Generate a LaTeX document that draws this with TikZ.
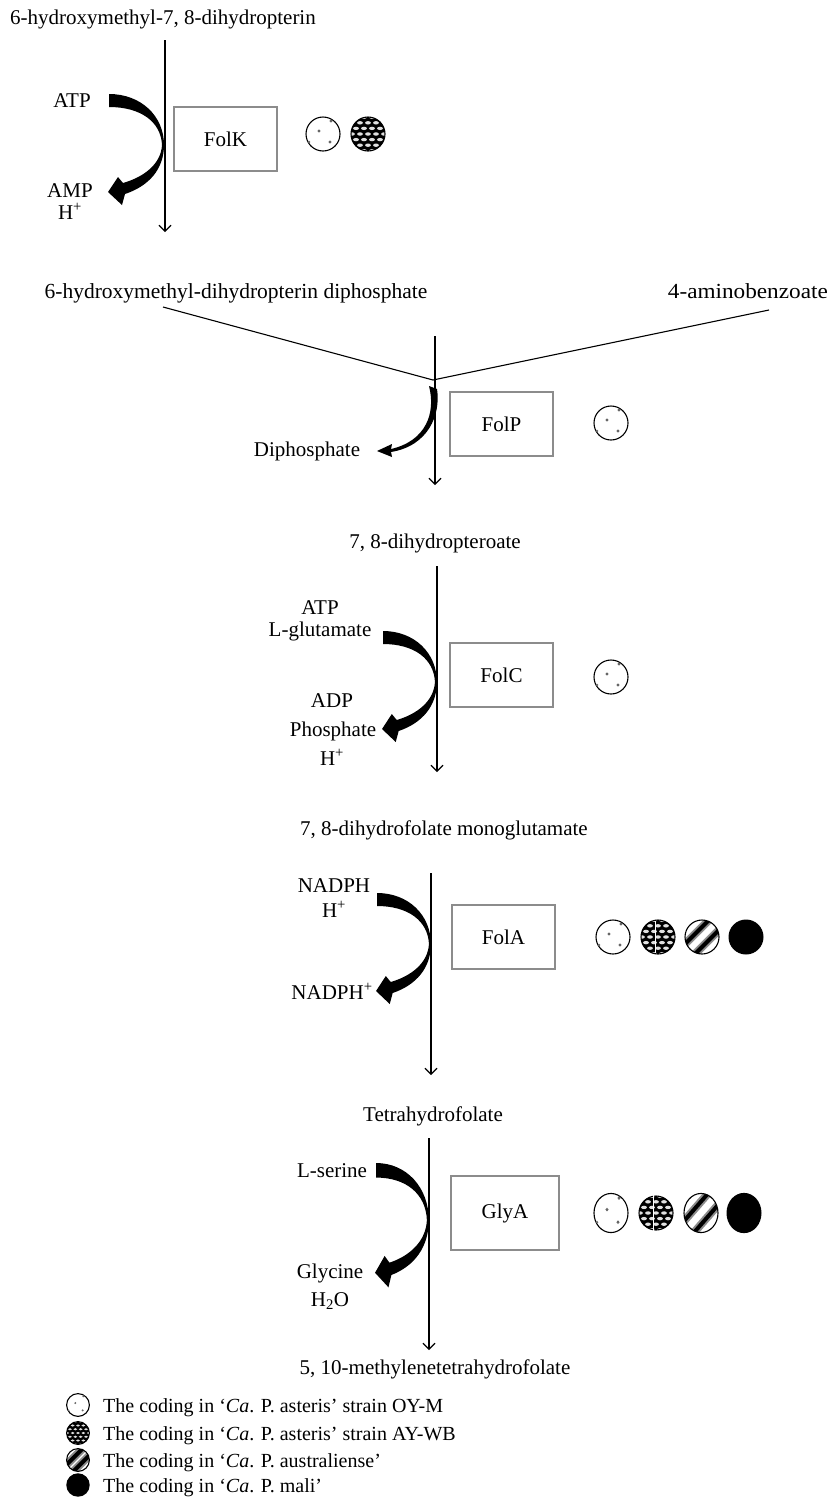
\documentclass[tikz,border=0pt]{standalone}
\usepackage{fontspec}
\setmainfont{Liberation Serif}
\usetikzlibrary{arrows.meta}
\tikzset{
  lbl/.style={font=\fontsize{21}{25}\selectfont, inner sep=0pt, anchor=base},
  legtxt/.style={font=\fontsize{20}{24}\selectfont, inner sep=0pt, anchor=base west},
  enz/.style={draw=black!45, line width=1.2pt, minimum width=103pt, minimum height=64pt, inner sep=0pt, font=\fontsize{21}{25}\selectfont},
  flow/.style={line width=1.1pt, -{Straight Barb[length=6pt,width=12pt,line width=1.1pt]}},
  joinline/.style={line width=1.1pt},
  bigarrow/.pic={
    \fill (0,0) .. controls (32,0) and (55,22) .. (55,51)
      .. controls (55,75) and (40,92) .. (16,100)
      -- (13,111) -- (-1,98) -- (9,83) -- (14,89)
      .. controls (35,83) and (52,70) .. (53,51)
      .. controls (52,28) and (32,13) .. (0,13) -- cycle;
  },
  oym/.pic={
    \draw[line width=1.1pt, fill=white] (0,0) circle[radius=17];
    \fill[black!60] (-4,-3) circle[radius=1.6] (8,-13) circle[radius=1.6]
      (7,8) circle[radius=1.6] (-14,8) circle[radius=1.3];
  },
  aywb/.pic={
    \begin{scope}
      \clip (0,0) circle[radius=17];
      \fill (-18,-18) rectangle (18,18);
      \foreach \r in {-3,...,3} {
        \foreach \c in {-3,...,3} {
          \fill[black!12] ({\c*8 + mod(\r+4,2)*4}, {\r*5.6}) ellipse[x radius=2.9, y radius=1.7];
        }
      }
    \end{scope}
    \draw[line width=1.1pt] (0,0) circle[radius=17];
  },
  aywbl/.pic={
    \pic {aywb};
    \draw[white, line width=0.8pt] (-3,-16) -- (-3,16);
  },
  aus/.pic={
    \begin{scope}
      \clip (0,0) circle[radius=17];
      \fill[white] (0,0) circle[radius=17];
      \draw[black!45, line width=8pt] (-30,20) -- (20,-30) (-20,30) -- (30,-20);
      \draw[black, line width=4pt] (-30,20) -- (20,-30) (-20,30) -- (30,-20);
    \end{scope}
    \draw[line width=1.1pt] (0,0) circle[radius=17];
  },
  mali/.pic={
    \fill (0,0) circle[radius=17.5];
  }
}
\begin{document}
\begin{tikzpicture}[x=1pt,y=-1pt]
\useasboundingbox (0,0) rectangle (837,1497);
\fill[white] (0,0) rectangle (837,1497);

% ---------- step 1: FolK ----------
\node[lbl, anchor=base west] (t1) at (10,24) {6-hydroxymethyl-7, 8-dihydropterin};
\coordinate (k1) at (165,40);
\coordinate (k2) at (165,232);
\draw[flow] (k1) -- (k2);
\pic at (109,94) {bigarrow};
\node[lbl] (atp1) at (72,107) {ATP};
\node[lbl] (amp1) at (70,197) {AMP};
\node[lbl] (hp1) at (70,219) {H\textsuperscript{+}};
\node[enz] (folk) at (225.5,139) {FolK};
\pic at (323,134) {oym};
\pic at (368,134) {aywb};

% ---------- step 2: FolP ----------
\node[lbl, font=\fontsize{21.5}{25}\selectfont] (t2) at (236,298) {6-hydroxymethyl-dihydropterin diphosphate};
\node[lbl, anchor=base east, font=\fontsize{21.5}{25}\selectfont] (t2b) at (828,298) {\scalebox{1.08}[1]{4-aminobenzoate}};
\coordinate (pl) at (163,307);
\coordinate (pj) at (433,380);
\coordinate (pr) at (769,310);
\draw[joinline] (pl) -- (pj) -- (pr);
\coordinate (p1) at (435,336);
\coordinate (p2) at (435,485);
\draw[flow] (p1) -- (p2);
\fill (429,386) -- (437,389) .. controls (441,415) and (428,446) .. (391,452)
  -- (392,457) -- (377,451) -- (392,444) -- (391,449)
  .. controls (426,441) and (436,413) .. (429,386) -- cycle;
\node[lbl] (diph) at (307,456) {Diphosphate};
\node[enz] (folp) at (501.5,424) {FolP};
\pic at (611,423) {oym};

% ---------- step 3: FolC ----------
\node[lbl] (t3) at (435,548) {7, 8-dihydropteroate};
\coordinate (c1) at (437,566);
\coordinate (c2) at (437,772);
\draw[flow] (c1) -- (c2);
\pic[xscale=0.98] at (383,631) {bigarrow};
\node[lbl] (atp3) at (320,614) {ATP};
\node[lbl] (glu3) at (320,636) {L-glutamate};
\node[lbl] (adp3) at (332,707) {ADP};
\node[lbl] (pho3) at (333,736) {Phosphate};
\node[lbl] (hp3) at (332,765) {H\textsuperscript{+}};
\node[enz] (folc) at (501.5,675) {FolC};
\pic at (611,677) {oym};

% ---------- step 4: FolA ----------
\node[lbl] (t4) at (444,835) {7, 8-dihydrofolate monoglutamate};
\coordinate (a1) at (431,873);
\coordinate (a2) at (431,1075);
\draw[flow] (a1) -- (a2);
\pic[xscale=0.98] at (377,893) {bigarrow};
\node[lbl] (nadph) at (334,892) {NADPH};
\node[lbl] (hp4) at (334,917) {H\textsuperscript{+}};
\node[lbl] (nadp) at (332,999) {NADPH\textsuperscript{+}};
\node[enz] (fola) at (503.5,937) {FolA};
\pic at (613,937) {oym};
\pic at (658,937) {aywbl};
\pic at (702,937) {aus};
\pic at (746,937) {mali};

% ---------- step 5: GlyA ----------
\node[lbl] (t5) at (433,1121) {Tetrahydrofolate};
\coordinate (g1) at (429,1138);
\coordinate (g2) at (429,1350);
\draw[flow] (g1) -- (g2);
\pic[xscale=0.96, yscale=1.12] at (376,1163) {bigarrow};
\node[lbl] (ser) at (332,1177) {L-serine};
\node[lbl] (gly) at (330,1278) {Glycine};
\node[lbl] (h2o) at (330,1306) {H\textsubscript{2}O};
\node[enz, minimum width=108pt, minimum height=74pt] (glya) at (505,1213) {GlyA};
\pic[yscale=1.15] at (611,1213) {oym};
\pic[yscale=1.15] at (656,1213) {aywbl};
\pic[yscale=1.15] at (701,1213) {aus};
\pic[yscale=1.15] at (744,1213) {mali};
\node[lbl] (t6) at (435,1374) {5, 10-methylenetetrahydrofolate};

% ---------- legend ----------
\pic[scale=0.67] at (78,1405) {oym};
\node[legtxt] (l1) at (103,1412) {The coding in ‘\textit{Ca}. P. asteris’ strain OY-M};
\pic[scale=0.67] at (78,1433) {aywb};
\node[legtxt] (l2) at (103,1440) {The coding in ‘\textit{Ca}. P. asteris’ strain AY-WB};
\pic[scale=0.67] at (78,1460) {aus};
\node[legtxt] (l3) at (103,1467) {The coding in ‘\textit{Ca}. P. australiense’};
\pic[scale=0.67] at (78,1485) {mali};
\node[legtxt] (l4) at (103,1492) {The coding in ‘\textit{Ca}. P. mali’};
\end{tikzpicture}
\end{document}
